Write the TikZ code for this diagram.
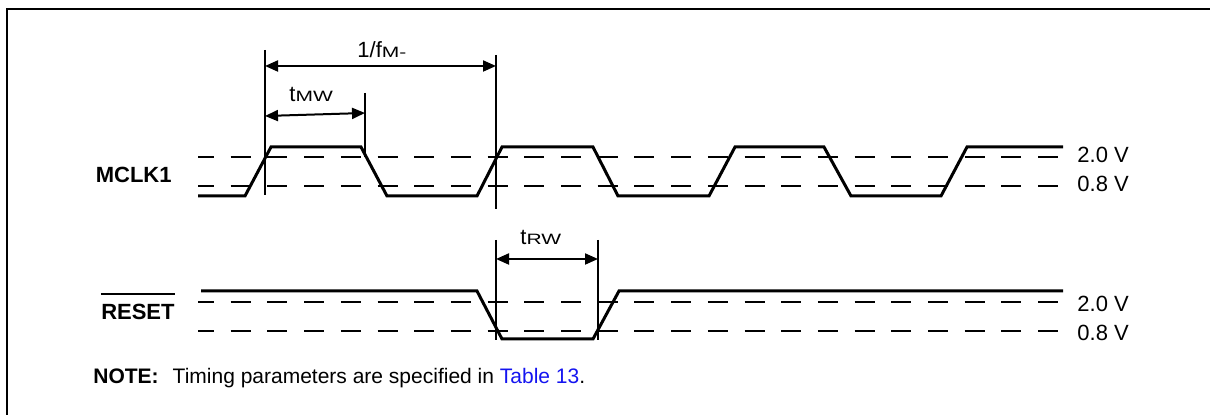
\documentclass[tikz,border=0pt]{standalone}
\usepackage{fontspec}
\usepackage{graphicx}
\setmainfont{Liberation Sans}
\usetikzlibrary{arrows.meta}
\definecolor{linkblue}{RGB}{20,20,240}
\newcommand\mysub[1]{\scalebox{1.4}[1]{\fontsize{7.5}{9}\selectfont #1}}
\begin{document}
\begin{tikzpicture}[x=0.5pt,y=-0.5pt,
  wave/.style={line width=1.5pt, line join=miter},
  thr/.style={line width=1pt, dash pattern=on 10pt off 8.35pt, dash phase=2pt},
  refline/.style={line width=1pt},
  dim/.style={line width=1pt, {Triangle[length=6.5pt,width=5.5pt]}-{Triangle[length=6.5pt,width=5.5pt]}},
  lbl/.style={inner sep=0pt, font=\fontsize{11}{13}\selectfont},
  sig/.style={inner sep=0pt, font=\fontsize{11}{13}\selectfont\bfseries},
  dimlbl/.style={inner sep=0pt, font=\fontsize{11}{13}\selectfont},
]
\useasboundingbox (0,0) rectangle (1210,415);
% frame (top and left edges)
\draw[line width=1pt] (7,415) -- (7,9) -- (1210,9);

% ---------- MCLK1 ----------
\node[sig, anchor=base east] (mclk) at (172,183) {MCLK1};
\coordinate (mhA) at (198,157);
\coordinate (mhB) at (1063,157);
\coordinate (mlA) at (198,186);
\coordinate (mlB) at (1063,186);
\draw[thr] (mhA) -- (mhB);
\draw[thr] (mlA) -- (mlB);
\node[lbl, anchor=base west] (m20) at (1077,163) {2.0 V};
\node[lbl, anchor=base west] (m08) at (1077,192) {0.8 V};
\draw[wave] (198,196) -- (245,196) -- (271,147) -- (361,147) -- (387,196)
  -- (477,196) -- (502,147) -- (593,147) -- (618,196) -- (709,196)
  -- (735,147) -- (824,147) -- (851,196) -- (941,196) -- (967,147) -- (1063,147);

% reference lines
\coordinate (v1t) at (265,50);  \coordinate (v1b) at (265,195);
\coordinate (v2t) at (365,93);  \coordinate (v2b) at (365,157);
\coordinate (v3t) at (496,55);  \coordinate (v3b) at (496,209);
\draw[refline] (v1t) -- (v1b);
\draw[refline] (v2t) -- (v2b);
\draw[refline] (v3t) -- (v3b);

% dimensions
\coordinate (pA) at (265,66);  \coordinate (pB) at (496,66);
\draw[dim] (pA) -- (pB);
\node[dimlbl, anchor=base west] (per) at (357,58) {1/f\mysub{M-}};
\coordinate (wA) at (265,116);  \coordinate (wB) at (365,113);
\draw[dim] (wA) -- (wB);
\node[dimlbl, anchor=base west] (tmw) at (289,102) {t\mysub{MW}};

% ---------- RESET ----------
\node[sig, anchor=base east] (reset) at (175,320) {RESET};
\draw[line width=1.2pt] ([yshift=5pt]reset.north west) -- ([yshift=5pt]reset.north east);
\coordinate (rhA) at (198,302);
\coordinate (rhB) at (1063,302);
\coordinate (rlA) at (198,331);
\coordinate (rlB) at (1063,331);
\draw[thr] (rhA) -- (rhB);
\draw[thr] (rlA) -- (rlB);
\node[lbl, anchor=base west] (r20) at (1077,312) {2.0 V};
\node[lbl, anchor=base west] (r08) at (1077,341) {0.8 V};
\draw[wave] (201,291) -- (477,291) -- (502,339) -- (593,339) -- (619,291) -- (1063,291);

\coordinate (r1t) at (496,240);  \coordinate (r1b) at (496,340);
\coordinate (r2t) at (598,240);  \coordinate (r2b) at (598,340);
\draw[refline] (r1t) -- (r1b);
\draw[refline] (r2t) -- (r2b);
\coordinate (tA) at (496,259);  \coordinate (tB) at (598,259);
\draw[dim] (tA) -- (tB);
\node[dimlbl, anchor=base west] (trw) at (520,245) {t\mysub{RW}};

% ---------- note ----------
\node[inner sep=0pt, anchor=base west, font=\fontsize{10.5}{12}\selectfont] (note) at (93,384)
  {\textbf{NOTE:}\hspace{7pt}Timing parameters are specified in \textcolor{linkblue}{Table 13}.};
\end{tikzpicture}
\end{document}
